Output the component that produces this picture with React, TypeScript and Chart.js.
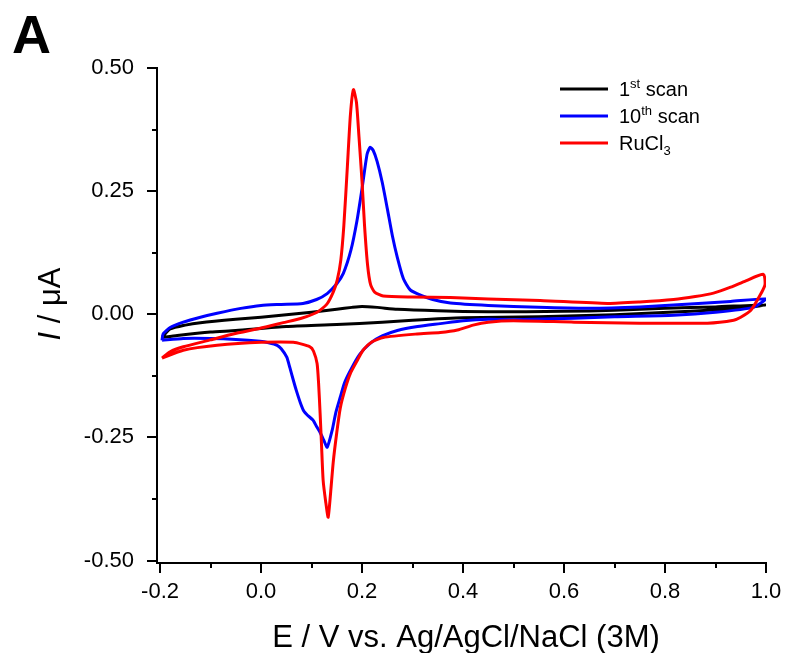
import React, { useEffect, useRef } from "react";
import { Chart, registerables } from "chart.js";

Chart.register(...registerables);

// ---- Data (E in V, I in µA) ----
const scan1E = [
  -0.196, -0.18, -0.15, -0.12, -0.05, 0.0, 0.05, 0.1, 0.15, 0.18, 0.2, 0.23, 0.27, 0.35, 0.45, 0.6, 0.7, 0.8, 0.9, 1.0,
  0.95, 0.85, 0.7, 0.55, 0.4, 0.3, 0.24, 0.15, 0.05, -0.05, -0.1, -0.166, -0.196,
];
const scan1I = [
  -0.047, -0.03, -0.022, -0.017, -0.01, -0.006, -0.001, 0.004, 0.01, 0.014, 0.016, 0.014, 0.01, 0.007, 0.005, 0.006, 0.008, 0.012, 0.015, 0.019,
  0.012, 0.006, -0.001, -0.005, -0.007, -0.012, -0.016, -0.021, -0.025, -0.033, -0.036, -0.043, -0.047,
];

const scan10E = [
  -0.196, -0.194, -0.18, -0.154, -0.12, -0.087, -0.04, 0.0, 0.04, 0.083, 0.11, 0.131, 0.15, 0.163, 0.178, 0.19, 0.2, 0.21,
  0.216, 0.222, 0.23, 0.24, 0.25, 0.26, 0.27, 0.282, 0.295, 0.309, 0.34, 0.375, 0.45, 0.55, 0.65, 0.75, 0.85, 0.93, 1.0,
  0.975, 0.9, 0.817, 0.7, 0.62, 0.5, 0.45, 0.4, 0.355, 0.31, 0.27, 0.24, 0.216, 0.195, 0.177, 0.165, 0.157, 0.148, 0.141,
  0.131, 0.124, 0.117, 0.11, 0.103, 0.092, 0.085, 0.078, 0.07, 0.064, 0.057, 0.051, 0.04, 0.032, 0.015, -0.002, -0.05,
  -0.1, -0.154, -0.196,
];
const scan10I = [
  -0.053, -0.04, -0.027, -0.016, -0.006, 0.002, 0.012, 0.018, 0.02, 0.022, 0.03, 0.042, 0.062, 0.083, 0.13, 0.19, 0.255, 0.325,
  0.339, 0.333, 0.31, 0.268, 0.215, 0.16, 0.115, 0.072, 0.05, 0.042, 0.03, 0.023, 0.018, 0.014, 0.012, 0.015, 0.021, 0.026, 0.031,
  0.014, 0.004, -0.002, -0.005, -0.008, -0.011, -0.01, -0.013, -0.019, -0.025, -0.033, -0.044, -0.059, -0.082, -0.114, -0.14, -0.168, -0.2, -0.235,
  -0.27, -0.255, -0.24, -0.228, -0.215, -0.205, -0.197, -0.18, -0.155, -0.134, -0.108, -0.087, -0.07, -0.063, -0.058, -0.055, -0.051,
  -0.049, -0.049, -0.053,
];

const rucl3E = [
  -0.196, -0.18, -0.154, -0.1, -0.055, 0.0, 0.044, 0.08, 0.111, 0.13, 0.143, 0.151, 0.158, 0.164, 0.171, 0.177, 0.183, 0.189,
  0.194, 0.2, 0.205, 0.211, 0.217, 0.225, 0.242, 0.3, 0.375, 0.45, 0.553, 0.686, 0.75, 0.817, 0.86, 0.896, 0.93, 0.96, 0.995,
  0.998, 0.989, 0.97, 0.95, 0.936, 0.884, 0.75, 0.62, 0.5, 0.45, 0.42, 0.389, 0.355, 0.309, 0.242, 0.22, 0.202, 0.19, 0.177,
  0.167, 0.157, 0.15, 0.143, 0.138, 0.133, 0.128, 0.123, 0.12, 0.117, 0.114, 0.111, 0.104, 0.097, 0.064, 0.0, -0.087, -0.154, -0.196,
];
const rucl3I = [
  -0.089, -0.076, -0.066, -0.052, -0.04, -0.028, -0.017, -0.008, 0.004, 0.02, 0.045, 0.07, 0.11, 0.18, 0.3, 0.405, 0.456, 0.43,
  0.36, 0.27, 0.18, 0.1, 0.06, 0.045, 0.037, 0.035, 0.034, 0.031, 0.028, 0.022, 0.025, 0.03, 0.036, 0.043, 0.055, 0.068, 0.081,
  0.06, 0.04, 0.008, -0.006, -0.012, -0.018, -0.018, -0.016, -0.013, -0.016, -0.022, -0.032, -0.037, -0.04, -0.047, -0.056, -0.073, -0.095, -0.12,
  -0.15, -0.19, -0.24, -0.3, -0.36, -0.412, -0.38, -0.337, -0.27, -0.201, -0.14, -0.1, -0.075, -0.066, -0.057, -0.057, -0.063, -0.073, -0.089,
];

const xTickValues = [-0.2, -0.1, 0.0, 0.1, 0.2, 0.3, 0.4, 0.5, 0.6, 0.7, 0.8, 0.9, 1.0];
const yTickValues = [-0.5, -0.375, -0.25, -0.125, 0.0, 0.125, 0.25, 0.375, 0.5];

const xTitle = "E / V vs. Ag/AgCl/NaCl (3M)";
const yTitleItalic = "I";
const yTitleRest = " / \u03BCA";
const panelLabel = "A";

// legend entries: [main, script, rest, scriptType]
const legendParts: [string, string, string, "sup" | "sub"][] = [
  ["1", "st", " scan", "sup"],
  ["10", "th", " scan", "sup"],
  ["RuCl", "3", "", "sub"],
];
const seriesNames = ["1st scan", "10th scan", "RuCl3"];
const seriesColors = ["#000000", "#0000ff", "#ff0000"];

const FONT = '"Liberation Sans", Arial, Helvetica, sans-serif';

function toPoints(xs: number[], ys: number[]) {
  return xs.map((x, i) => ({ x, y: ys[i] }));
}

const decorPlugin = {
  id: "decor",
  afterDraw(chart: any) {
    const ctx: CanvasRenderingContext2D = chart.ctx;
    const xs = chart.scales.x;
    const ys = chart.scales.y;
    const area = chart.chartArea;
    ctx.save();
    ctx.strokeStyle = "#000";
    ctx.lineWidth = 2;
    // x tick marks
    xTickValues.forEach((v) => {
      const px = Math.round(xs.getPixelForValue(v));
      const major = Math.abs(Math.round(v * 10)) % 2 === 0;
      const len = major ? 10 : 5;
      ctx.beginPath();
      ctx.moveTo(px, area.bottom);
      ctx.lineTo(px, area.bottom + len);
      ctx.stroke();
    });
    // y tick marks
    yTickValues.forEach((v) => {
      const py = Math.round(ys.getPixelForValue(v));
      const major = Math.abs(Math.round(v * 8)) % 2 === 0;
      const len = major ? 10 : 5;
      ctx.beginPath();
      ctx.moveTo(area.left, py);
      ctx.lineTo(area.left - len, py);
      ctx.stroke();
    });

    ctx.fillStyle = "#000";
    // x title
    ctx.font = `31px ${FONT}`;
    ctx.textAlign = "center";
    ctx.textBaseline = "alphabetic";
    ctx.fillText(xTitle, 466, 647);

    // y title (rotated)
    ctx.save();
    ctx.translate(60, 304);
    ctx.rotate(-Math.PI / 2);
    ctx.textAlign = "left";
    ctx.font = `italic 31px ${FONT}`;
    const wI = ctx.measureText(yTitleItalic).width;
    ctx.font = `31px ${FONT}`;
    const wR = ctx.measureText(yTitleRest).width;
    const start = -(wI + wR) / 2;
    ctx.font = `italic 31px ${FONT}`;
    ctx.fillText(yTitleItalic, start, 0);
    ctx.font = `31px ${FONT}`;
    ctx.fillText(yTitleRest, start + wI, 0);
    ctx.restore();

    // panel label
    ctx.font = `bold 54px ${FONT}`;
    ctx.textAlign = "left";
    ctx.fillText(panelLabel, 12, 53);

    // legend
    legendParts.forEach((p, i) => {
      const y = 89 + i * 27;
      ctx.strokeStyle = seriesColors[i];
      ctx.lineWidth = 3;
      ctx.beginPath();
      ctx.moveTo(560, y);
      ctx.lineTo(608, y);
      ctx.stroke();
      ctx.fillStyle = "#000";
      const base = y + 7;
      let x = 619;
      ctx.font = `20px ${FONT}`;
      ctx.fillText(p[0], x, base);
      x += ctx.measureText(p[0]).width;
      ctx.font = `13px ${FONT}`;
      const off = p[3] === "sup" ? -8 : 5;
      ctx.fillText(p[1], x, base + off);
      x += ctx.measureText(p[1]).width;
      ctx.font = `20px ${FONT}`;
      if (p[2]) ctx.fillText(p[2], x, base);
    });
    ctx.restore();
  },
};

export default function App() {
  const ref = useRef<HTMLCanvasElement>(null);
  useEffect(() => {
    document.body.style.margin = "0";
    const canvas = ref.current!;
    const mk = (i: number, E: number[], I: number[], order: number) => ({
      label: seriesNames[i],
      data: toPoints(E, I),
      showLine: true,
      borderColor: seriesColors[i],
      backgroundColor: seriesColors[i],
      borderWidth: 3,
      pointRadius: 0,
      tension: 0.2,
      order,
    });
    const chart = new Chart(canvas, {
      type: "scatter",
      data: {
        datasets: [mk(0, scan1E, scan1I, 3), mk(1, scan10E, scan10I, 2), mk(2, rucl3E, rucl3I, 1)],
      },
      plugins: [decorPlugin],
      options: {
        animation: false,
        responsive: false,
        devicePixelRatio: 1,
        layout: { padding: { left: 0, right: 19, top: 68, bottom: 0 } },
        plugins: { legend: { display: false }, tooltip: { enabled: false } },
        scales: {
          x: {
            type: "linear",
            min: -0.206,
            max: 1.0,
            grid: { display: false, drawTicks: false },
            border: { display: true, color: "#000", width: 2 },
            afterBuildTicks: (s: any) => {
              s.ticks = xTickValues.map((v) => ({ value: v }));
            },
            afterFit: (s: any) => {
              s.height = 90;
              s.paddingLeft = 0;
              s.paddingRight = 0;
            },
            ticks: {
              autoSkip: false,
              maxRotation: 0,
              padding: 16,
              color: "#000",
              font: { family: FONT, size: 22 },
              callback: (v: any) => {
                const n = Number(v);
                return Math.abs(Math.round(n * 10)) % 2 === 0 ? n.toFixed(1) : "";
              },
            },
          },
          y: {
            type: "linear",
            min: -0.505,
            max: 0.5,
            grid: { display: false, drawTicks: false },
            border: { display: true, color: "#000", width: 2 },
            afterBuildTicks: (s: any) => {
              s.ticks = yTickValues.map((v) => ({ value: v }));
            },
            afterFit: (s: any) => {
              s.width = 157;
              s.paddingTop = 0;
              s.paddingBottom = 0;
            },
            ticks: {
              autoSkip: false,
              padding: 23,
              color: "#000",
              font: { family: FONT, size: 22 },
              callback: (v: any) => {
                const n = Number(v);
                return Math.abs(Math.round(n * 8)) % 2 === 0 ? n.toFixed(2) : "";
              },
            },
          },
        },
      },
    });
    return () => chart.destroy();
  }, []);
  return <canvas ref={ref} width={785} height={653} style={{ display: "block", width: 785, height: 653 }} />;
}
